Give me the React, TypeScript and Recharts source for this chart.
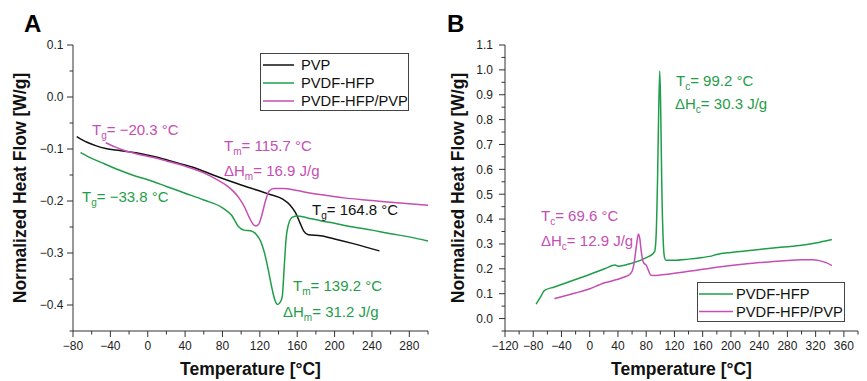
import React from 'react';
import { LineChart, Line, XAxis, YAxis, Legend, Label } from 'recharts';

const GREEN = '#1f9d48';
const MAGENTA = '#c64db3';
const BLACK = '#111111';
const AXIS = '#333333';
const FONT = '"Liberation Sans", Arial, Helvetica, sans-serif';

// ---------- Panel A (heating) ----------
const pvpTemp = [-76, -65, -55, -45, -30, -10, 10, 30, 50, 70, 90, 110, 130, 145, 152, 158, 163, 167, 172, 185, 200, 220, 248];
const pvpFlow = [-0.076, -0.087, -0.094, -0.099, -0.103, -0.108, -0.116, -0.126, -0.136, -0.150, -0.163, -0.175, -0.187, -0.197, -0.207, -0.222, -0.242, -0.258, -0.265, -0.267, -0.273, -0.282, -0.296];

const hfpTempA = [-72, -60, -47, -30, -15, 0, 20, 40, 60, 80, 90, 97, 103, 110, 116, 121, 125, 129, 133, 136, 139, 142, 144, 146, 148, 151, 155, 160, 170, 185, 200, 220, 240, 260, 280, 300];
const hfpFlowA = [-0.107, -0.118, -0.128, -0.141, -0.151, -0.159, -0.172, -0.185, -0.198, -0.213, -0.228, -0.249, -0.256, -0.257, -0.264, -0.278, -0.300, -0.332, -0.368, -0.390, -0.399, -0.394, -0.384, -0.330, -0.275, -0.243, -0.231, -0.229, -0.232, -0.238, -0.243, -0.250, -0.256, -0.263, -0.269, -0.277];

const blendTempA = [-45, -35, -25, -10, 5, 20, 40, 60, 75, 85, 92, 98, 104, 109, 113, 116, 119, 122, 126, 130, 135, 145, 160, 175, 190, 210, 240, 270, 300];
const blendFlowA = [-0.088, -0.096, -0.103, -0.110, -0.116, -0.123, -0.133, -0.146, -0.160, -0.171, -0.182, -0.195, -0.213, -0.233, -0.245, -0.248, -0.244, -0.228, -0.200, -0.181, -0.176, -0.176, -0.180, -0.185, -0.189, -0.194, -0.199, -0.204, -0.208];

const aXMajor = [-80, -40, 0, 40, 80, 120, 160, 200, 240, 280];
const aXMinor = [-60, -20, 20, 60, 100, 140, 180, 220, 260, 300];
const aYMajor = [-0.4, -0.3, -0.2, -0.1, 0, 0.1];
const aYMinor = [-0.45, -0.35, -0.25, -0.15, -0.05, 0.05];

// ---------- Panel B (cooling) ----------
const hfpTempB = [-76, -70, -64, -50, -30, -10, 10, 25, 32, 36, 40, 45, 60, 70, 80, 88, 92, 94, 96, 97.5, 99.2, 100.5, 102, 104, 106, 108, 120, 140, 160, 170, 180, 200, 220, 240, 260, 280, 300, 320, 343];
const hfpFlowB = [0.058, 0.085, 0.113, 0.127, 0.147, 0.167, 0.188, 0.205, 0.213, 0.215, 0.210, 0.212, 0.223, 0.232, 0.245, 0.257, 0.270, 0.330, 0.550, 0.800, 0.995, 0.850, 0.550, 0.320, 0.245, 0.234, 0.234, 0.239, 0.246, 0.250, 0.258, 0.266, 0.272, 0.278, 0.284, 0.289, 0.295, 0.304, 0.318];

const blendTempB = [-50, -40, -20, 0, 13, 20, 30, 40, 50, 56, 60, 63, 66, 69, 71, 73, 75, 77, 80, 83, 86, 90, 100, 120, 140, 160, 180, 200, 220, 240, 260, 280, 300, 315, 325, 335, 343];
const blendFlowB = [0.080, 0.088, 0.103, 0.120, 0.135, 0.143, 0.150, 0.158, 0.168, 0.176, 0.190, 0.225, 0.290, 0.340, 0.320, 0.270, 0.235, 0.222, 0.215, 0.195, 0.176, 0.173, 0.175, 0.182, 0.190, 0.198, 0.206, 0.213, 0.219, 0.225, 0.229, 0.233, 0.236, 0.236, 0.233, 0.225, 0.213];

const bXMajor = [-120, -80, -40, 0, 40, 80, 120, 160, 200, 240, 280, 320, 360];
const bXMinor = [-100, -60, -20, 20, 60, 100, 140, 180, 220, 260, 300, 340, 380];
const bYMajor = [0, 0.1, 0.2, 0.3, 0.4, 0.5, 0.6, 0.7, 0.8, 0.9, 1.0, 1.1];
const bYMinor = [-0.05, 0.05, 0.15, 0.25, 0.35, 0.45, 0.55, 0.65, 0.75, 0.85, 0.95, 1.05];

const seriesA = [
  { name: 'PVP', color: BLACK },
  { name: 'PVDF-HFP', color: GREEN },
  { name: 'PVDF-HFP/PVP', color: MAGENTA },
];
const seriesB = [
  { name: 'PVDF-HFP', color: GREEN },
  { name: 'PVDF-HFP/PVP', color: MAGENTA },
];

const zip = (t: number[], v: number[]) => t.map((x, i) => ({ x, y: v[i] }));
const sorted = (a: number[], b: number[]) => [...a, ...b].sort((p, q) => p - q);
const isIn = (arr: number[], v: number) => arr.some((m) => Math.abs(m - v) < 1e-6);
const fmtX = (v: number) => (v < 0 ? '\u2212' + Math.abs(v) : String(v));
const fmtY = (v: number) => {
  const s = Math.abs(v).toFixed(1);
  return v < -1e-9 ? '\u2212' + s : s;
};

const TS = 6;
const TM = 3;

const makeXTick = (majors: number[]) => (props: any) => {
  const { x, y, payload } = props;
  const v = payload.value;
  const major = isIn(majors, v);
  const y0 = y - TS - TM;
  return (
    <g>
      <line x1={x} x2={x} y1={y0} y2={y0 + (major ? 6 : 3.5)} stroke={AXIS} strokeWidth={1} />
      {major && (
        <text x={x} y={y0 + 19} textAnchor="middle" fontSize={12} fontFamily={FONT} fill="#222">
          {fmtX(v)}
        </text>
      )}
    </g>
  );
};

const makeYTick = (majors: number[], gap: number) => (props: any) => {
  const { x, y, payload } = props;
  const v = payload.value;
  const major = isIn(majors, v);
  const ax = x + TS + TM;
  return (
    <g>
      <line x1={ax} x2={ax - (major ? 6 : 3.5)} y1={y} y2={y} stroke={AXIS} strokeWidth={1} />
      {major && (
        <text x={ax - gap} y={y + 4.3} textAnchor="end" fontSize={12} fontFamily={FONT} fill="#222">
          {fmtY(v)}
        </text>
      )}
    </g>
  );
};

const makeLegend = (items: { name: string; color: string }[], lineX1: number, lineX2: number, textX: number, rows: number[]) => () => (
  <svg width={150} height={rows[rows.length - 1] + 14} style={{ overflow: 'visible', display: 'block' }}>
    {items.map((it, i) => (
      <g key={it.name}>
        <line x1={lineX1} x2={lineX2} y1={rows[i]} y2={rows[i]} stroke={it.color} strokeWidth={1.5} />
        <text x={textX} y={rows[i] + 5.3} fontSize={14.7} fontFamily={FONT} fill="#111">
          {it.name}
        </text>
      </g>
    ))}
  </svg>
);

const Ann = ({ x, y, color, main, sub, rest }: { x: number; y: number; color: string; main: string; sub: string; rest: string }) => (
  <text x={x} y={y} fill={color} fontSize={15} fontFamily={FONT}>
    {main}
    <tspan fontSize={10} dy={4}>{sub}</tspan>
    <tspan dy={-4}>{rest}</tspan>
  </text>
);

const titleStyle = { fontSize: 17.5, fontWeight: 700, fontFamily: FONT, fill: '#111' };

export default function App() {
  return (
    <div style={{ position: 'absolute', left: 0, top: 0, width: 867, height: 381, background: '#fff', fontFamily: FONT }}>
      <div style={{ position: 'absolute', left: 0, top: 0 }}>
        <LineChart width={433} height={381} margin={{ top: 45, right: 5, bottom: 0, left: 0 }}>
          <XAxis
            type="number"
            dataKey="x"
            domain={[-80, 300]}
            ticks={sorted(aXMajor, aXMinor)}
            interval={0}
            height={50}
            tickSize={TS}
            tickMargin={TM}
            tickLine={false}
            axisLine={{ stroke: AXIS, strokeWidth: 1 }}
            tick={makeXTick(aXMajor)}
          >
            <Label value="Temperature [°C]" position="insideBottom" offset={6} {...titleStyle} />
          </XAxis>
          <XAxis xAxisId="top" orientation="top" type="number" domain={[-80, 300]} height={0} tick={false} tickLine={false} axisLine={{ stroke: AXIS, strokeWidth: 1 }} />
          <YAxis
            type="number"
            domain={[-0.45, 0.1]}
            ticks={sorted(aYMajor, aYMinor)}
            interval={0}
            width={73}
            tickSize={TS}
            tickMargin={TM}
            tickLine={false}
            axisLine={{ stroke: AXIS, strokeWidth: 1 }}
            tick={makeYTick(aYMajor, 9.5)}
            allowDataOverflow
          >
            <Label value="Normalized Heat Flow [W/g]" angle={-90} position="insideLeft" offset={20} style={{ textAnchor: 'middle' }} {...titleStyle} />
          </YAxis>
          <YAxis yAxisId="right" orientation="right" type="number" domain={[-0.45, 0.1]} width={0} tick={false} tickLine={false} axisLine={{ stroke: AXIS, strokeWidth: 1 }} />
          <Line data={zip(pvpTemp, pvpFlow)} dataKey="y" name="PVP" type="monotone" stroke={BLACK} strokeWidth={1.5} dot={false} isAnimationActive={false} />
          <Line data={zip(hfpTempA, hfpFlowA)} dataKey="y" name="PVDF-HFP" type="monotone" stroke={GREEN} strokeWidth={1.5} dot={false} isAnimationActive={false} />
          <Line data={zip(blendTempA, blendFlowA)} dataKey="y" name="PVDF-HFP/PVP" type="monotone" stroke={MAGENTA} strokeWidth={1.5} dot={false} isAnimationActive={false} />
          <Legend
            layout="vertical"
            align="center"
            verticalAlign="middle"
            content={makeLegend(seriesA, 2, 33, 40, [11, 29, 47])}
            wrapperStyle={{ left: 260, top: 53, width: 149, height: 58, border: '1px solid #444', boxSizing: 'border-box', background: '#fff' }}
          />
        </LineChart>
      </div>
      <div style={{ position: 'absolute', left: 433, top: 0 }}>
        <LineChart width={434} height={381} margin={{ top: 45, right: 9, bottom: 0, left: 0 }}>
          <XAxis
            type="number"
            dataKey="x"
            domain={[-120, 380]}
            ticks={sorted(bXMajor, bXMinor)}
            interval={0}
            height={50}
            tickSize={TS}
            tickMargin={TM}
            tickLine={false}
            axisLine={{ stroke: AXIS, strokeWidth: 1 }}
            tick={makeXTick(bXMajor)}
          >
            <Label value="Temperature [°C]" position="insideBottom" offset={6} {...titleStyle} />
          </XAxis>
          <XAxis xAxisId="top" orientation="top" type="number" domain={[-120, 380]} height={0} tick={false} tickLine={false} axisLine={{ stroke: AXIS, strokeWidth: 1 }} />
          <YAxis
            type="number"
            domain={[-0.05, 1.1]}
            ticks={sorted(bYMajor, bYMinor)}
            interval={0}
            width={72}
            tickSize={TS}
            tickMargin={TM}
            tickLine={false}
            axisLine={{ stroke: AXIS, strokeWidth: 1 }}
            tick={makeYTick(bYMajor, 12)}
            allowDataOverflow
          >
            <Label value="Normalized Heat Flow [W/g]" angle={-90} position="insideLeft" offset={25} style={{ textAnchor: 'middle' }} {...titleStyle} />
          </YAxis>
          <YAxis yAxisId="right" orientation="right" type="number" domain={[-0.05, 1.1]} width={0} tick={false} tickLine={false} axisLine={{ stroke: AXIS, strokeWidth: 1 }} />
          <Line data={zip(hfpTempB, hfpFlowB)} dataKey="y" name="PVDF-HFP" type="monotone" stroke={GREEN} strokeWidth={1.5} dot={false} isAnimationActive={false} />
          <Line data={zip(blendTempB, blendFlowB)} dataKey="y" name="PVDF-HFP/PVP" type="monotone" stroke={MAGENTA} strokeWidth={1.5} dot={false} isAnimationActive={false} />
          <Legend
            layout="vertical"
            align="center"
            verticalAlign="middle"
            content={makeLegend(seriesB, 1, 35, 38, [11, 28.5])}
            wrapperStyle={{ left: 264, top: 282, width: 148, height: 40, border: '1px solid #444', boxSizing: 'border-box', background: '#fff' }}
          />
        </LineChart>
      </div>
      <svg width={867} height={381} style={{ position: 'absolute', left: 0, top: 0, pointerEvents: 'none' }}>
        <text x={24} y={32} fontSize={24} fontWeight={700} fontFamily={FONT} fill="#000">A</text>
        <text x={447} y={32} fontSize={24} fontWeight={700} fontFamily={FONT} fill="#000">B</text>
        <Ann x={92} y={135} color={MAGENTA} main="T" sub="g" rest="= −20.3 °C" />
        <Ann x={224} y={151} color={MAGENTA} main="T" sub="m" rest="= 115.7 °C" />
        <Ann x={224} y={176} color={MAGENTA} main="ΔH" sub="m" rest="= 16.9 J/g" />
        <Ann x={82} y={202} color={GREEN} main="T" sub="g" rest="= −33.8 °C" />
        <Ann x={312} y={215} color={BLACK} main="T" sub="g" rest="= 164.8 °C" />
        <Ann x={293} y={291} color={GREEN} main="T" sub="m" rest="= 139.2 °C" />
        <Ann x={283} y={317} color={GREEN} main="ΔH" sub="m" rest="= 31.2 J/g" />
        <Ann x={676} y={86} color={GREEN} main="T" sub="c" rest="= 99.2 °C" />
        <Ann x={675} y={109} color={GREEN} main="ΔH" sub="c" rest="= 30.3 J/g" />
        <Ann x={541} y={221} color={MAGENTA} main="T" sub="c" rest="= 69.6 °C" />
        <Ann x={541} y={246} color={MAGENTA} main="ΔH" sub="c" rest="= 12.9 J/g" />
      </svg>
    </div>
  );
}
